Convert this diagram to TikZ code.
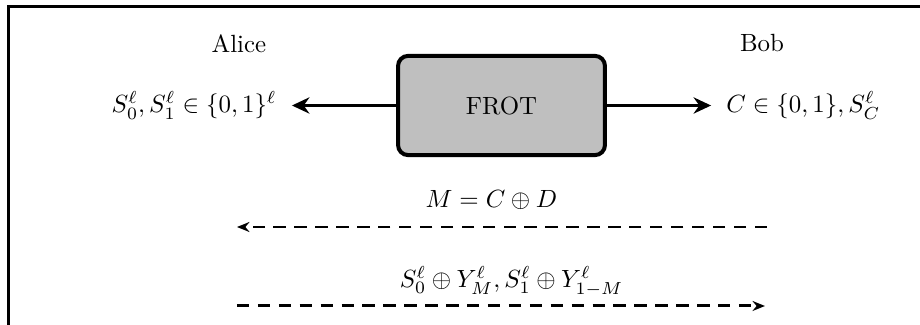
\documentclass[tikz,border=0pt]{standalone}
\usepackage{amsmath}
\usepackage{amssymb}
\usetikzlibrary{arrows.meta,calc,positioning}
\begin{document}
\begin{tikzpicture}[node distance=1.47cm,
    frot/.style={draw,ultra thick,rounded corners,fill=gray!50,minimum width=2.92cm,minimum height=1.4cm},
    party/.style={inner xsep=0.21cm},
    output/.style={ultra thick,-{Stealth[length=7pt,width=6.5pt]}},
    msg/.style={very thick,dash pattern=on 5pt off 3.4pt,-{Stealth[length=5pt,width=4pt]}} ]
    \useasboundingbox (0,0) rectangle (12.986,4.587);
    \draw[very thick] (0.123,0) -- (0.123,4.496) -- (12.986,4.496);
    \node (alice) at (3.373,3.975) {Alice};
    \node (bob) at (10.756,3.975) {Bob};
    \node[frot] (box) at (7.079,3.098) {FROT};
    \node[party,left=of box] (sleft) {$S_0^\ell, S_1^\ell \in \{0,1\}^\ell$};
    \node[party,right=of box] (sright) {$C \in \{0,1\}, S_C^\ell$};
    \draw[output] (box) -- (sleft);
    \draw[output] (box) -- (sright);
    % messages
    \coordinate (aliceM) at (3.345,1.383);
    \coordinate (bobM) at (10.826,1.383);
    \coordinate (aliceY) at (3.345,0.268);
    \coordinate (bobY) at (10.798,0.268);
    \draw[msg] (bobM) -- node[above=3pt,pos=0.52] {$M = C \oplus D$} (aliceM);
    \draw[msg] (aliceY) -- node[above,pos=0.52] {$S_0^\ell \oplus Y_M^\ell, S_1^\ell \oplus Y_{1-M}^\ell$} (bobY);
\end{tikzpicture}
\end{document}
